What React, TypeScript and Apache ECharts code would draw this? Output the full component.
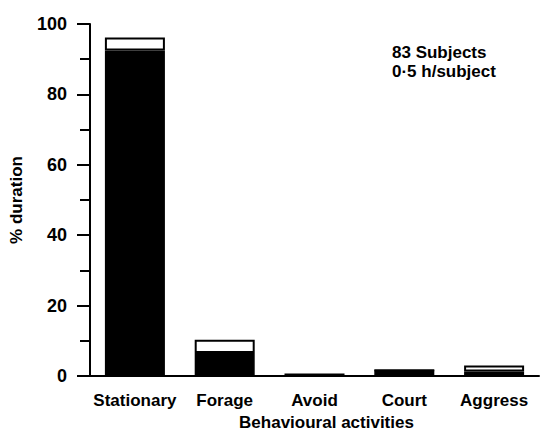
import React, { useEffect, useRef } from "react";
import * as echarts from "echarts";

const categories = ["Stationary", "Forage", "Avoid", "Court", "Aggress"];
const blackPart = [92.5, 6.5, 0.4, 1.6, 1.3];
const totals = [96.2, 10.3, 0.4, 1.6, 3.0];
const whitePart = totals.map((t, i) => Math.max(0, +(t - blackPart[i]).toFixed(2)));
const yTicks = [0, 20, 40, 60, 80, 100];
const annotation = ["83 Subjects", "0·5 h/subject"];

const FONT = "'Liberation Sans', Arial, Helvetica, sans-serif";

export default function App() {
  const ref = useRef<HTMLDivElement>(null);
  useEffect(() => {
    if (!ref.current) return;
    const chart = echarts.init(ref.current, null, { renderer: "svg" });
    chart.setOption({
      animation: false,
      backgroundColor: "#ffffff",
      textStyle: { fontFamily: FONT, color: "#000" },
      grid: { left: 89, right: 1, top: 24, bottom: 56, containLabel: false },
      xAxis: {
        type: "category",
        data: categories,
        axisLine: { show: true, lineStyle: { color: "#000", width: 2 } },
        axisTick: { show: false },
        axisLabel: {
          interval: 0,
          hideOverlap: false,
          color: "#000",
          fontFamily: FONT,
          fontSize: 17,
          fontWeight: "bold",
          margin: 16,
        },
        name: "Behavioural activities",
        nameLocation: "middle",
        nameGap: 38,
        nameTextStyle: {
          color: "#000",
          fontFamily: FONT,
          fontSize: 17,
          fontWeight: "bold",
          padding: [0, 0, 0, 24],
        },
      },
      yAxis: {
        type: "value",
        min: yTicks[0],
        max: yTicks[yTicks.length - 1],
        interval: 20,
        axisLine: { show: true, lineStyle: { color: "#000", width: 2 } },
        axisTick: { show: true, inside: false, length: 13, lineStyle: { color: "#000", width: 2 } },
        minorTick: { show: true, splitNumber: 2, length: 10, lineStyle: { color: "#000", width: 2 } },
        splitLine: { show: false },
        axisLabel: {
          color: "#000",
          fontFamily: FONT,
          fontSize: 18,
          fontWeight: "bold",
          margin: 23,
        },
        name: "% duration",
        nameLocation: "middle",
        nameGap: 65,
        nameRotate: 90,
        nameTextStyle: {
          color: "#000",
          fontFamily: FONT,
          fontSize: 17,
          fontWeight: "bold",
        },
      },
      series: [
        {
          type: "bar",
          stack: "total",
          data: blackPart,
          barWidth: 60,
          itemStyle: { color: "#000", borderColor: "#000", borderWidth: 1.5 },
        },
        {
          type: "bar",
          stack: "total",
          data: whitePart,
          barWidth: 60,
          itemStyle: { color: "#fff", borderColor: "#000", borderWidth: 2 },
        },
      ],
      graphic: annotation.map((t, i) => ({
        type: "text",
        left: 392,
        top: 44 + i * 19,
        style: {
          text: t,
          fontFamily: FONT,
          fontSize: 17,
          fontWeight: "bold",
          fill: "#000",
        },
      })),
    });
    return () => chart.dispose();
  }, []);
  return <div ref={ref} style={{ width: 540, height: 436, position: "absolute", left: 0, top: 0 }} />;
}
